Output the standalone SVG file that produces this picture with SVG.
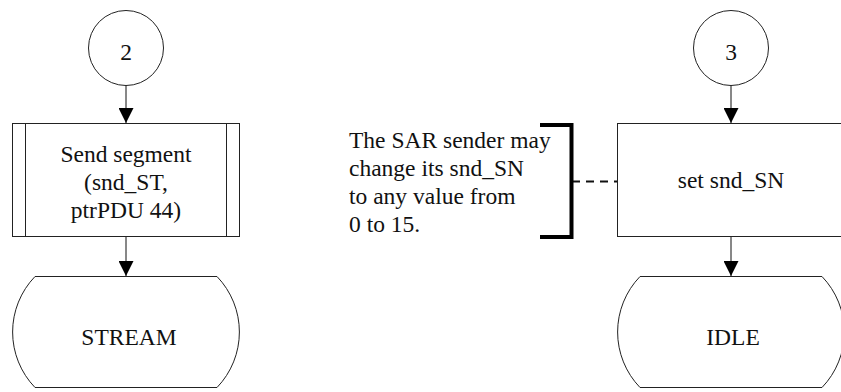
<svg xmlns="http://www.w3.org/2000/svg" width="841" height="392" viewBox="0 0 841 392">
<style>
.shape{fill:#fff;stroke:#222;stroke-width:1}
.t{font-family:"Liberation Serif","Times New Roman",serif;font-size:23.5px;fill:#111}
.c{text-anchor:middle}
.flow{stroke:#111;stroke-width:1;fill:none}
.dash{stroke:#111;stroke-width:2;stroke-dasharray:8,6;fill:none}
.bracket{stroke:#000;stroke-width:4;fill:none}
</style>
<defs>
<marker id="arr" viewBox="0 0 15 15" refX="15" refY="7.5" markerWidth="15" markerHeight="15" markerUnits="userSpaceOnUse" orient="auto">
<path d="M0,0 L15,7.5 L0,15 Z" fill="#000"/>
</marker>
</defs>
<rect width="841" height="392" fill="#fff"/>
<g id="connectors">
<line class="flow" x1="126" y1="85" x2="126" y2="123" marker-end="url(#arr)"/>
<line class="flow" x1="126" y1="237" x2="126" y2="276" marker-end="url(#arr)"/>
<line class="flow" x1="731" y1="85" x2="731" y2="123" marker-end="url(#arr)"/>
<line class="flow" x1="731" y1="237" x2="731" y2="276" marker-end="url(#arr)"/>
<line class="dash" x1="572" y1="181.5" x2="617" y2="181.5"/>
</g>
<g id="connector2">
<circle class="shape" cx="126" cy="48" r="37.5"/>
<text class="t c" x="126" y="60">2</text>
</g>
<g id="sendSegment">
<rect class="shape" x="12.5" y="123.5" width="227" height="113"/>
<line class="shape" x1="25.5" y1="123.5" x2="25.5" y2="236.5"/>
<line class="shape" x1="226.5" y1="123.5" x2="226.5" y2="236.5"/>
<text class="t c" x="126" y="162">Send segment</text>
<text class="t c" x="126" y="190">(snd_ST,</text>
<text class="t c" x="126" y="218">ptrPDU 44)</text>
</g>
<g id="stream">
<path class="shape" d="M35,276.5 L217,276.5 A80,80 0 0 1 217,387.5 L35,387.5 A80,80 0 0 1 35,276.5 Z"/>
<text class="t c" x="129" y="345">STREAM</text>
</g>
<g id="connector3">
<circle class="shape" cx="731" cy="48" r="37.5"/>
<text class="t c" x="731" y="60">3</text>
</g>
<g id="setSN">
<rect class="shape" x="617.5" y="123.5" width="227" height="113"/>
<text class="t c" x="731" y="188">set snd_SN</text>
</g>
<g id="idle">
<path class="shape" d="M640,276.5 L822,276.5 A80,80 0 0 1 822,387.5 L640,387.5 A80,80 0 0 1 640,276.5 Z"/>
<text class="t c" x="733" y="345">IDLE</text>
</g>
<g id="note">
<path class="bracket" d="M540,125 L571.5,125 L571.5,237 L540,237"/>
<text class="t" x="349" y="148">The SAR sender may</text>
<text class="t" x="349" y="176">change its snd_SN</text>
<text class="t" x="349" y="204">to any value from</text>
<text class="t" x="349" y="232">0 to 15.</text>
</g>
</svg>
